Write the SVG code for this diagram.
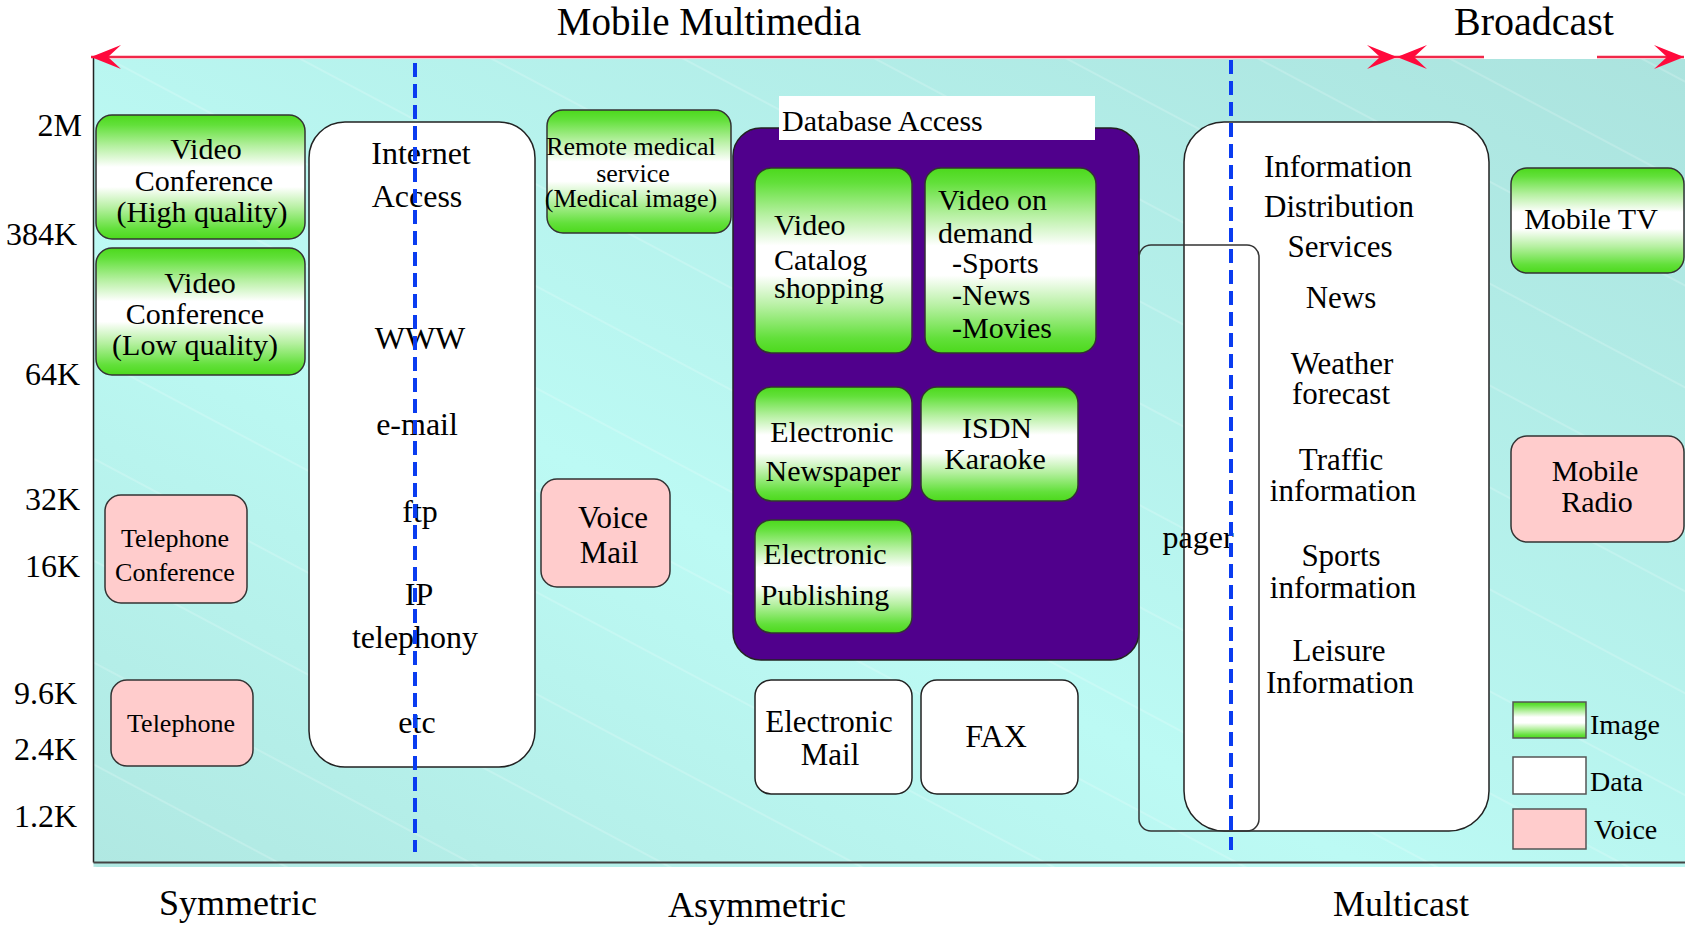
<svg xmlns="http://www.w3.org/2000/svg" width="1685" height="928" viewBox="0 0 1685 928">
<style>
text{font-family:"Liberation Serif","Times New Roman",serif;fill:#000}
.c{text-anchor:middle}
.e{text-anchor:end}
.ax{font-size:32px}
.t30{font-size:30px}
.t31{font-size:31px}
.t32{font-size:32px}
.img{fill:url(#gImg);stroke:#333;stroke-width:1.5}
.voice{fill:#ffcccc;stroke:#333;stroke-width:1.5}
.data{fill:#fff;stroke:#222;stroke-width:1.5}
.dash{stroke:#0a3cf0;stroke-width:4;stroke-dasharray:14 7;fill:none}
.red{stroke:#f0284a;stroke-width:2.5;fill:none}
</style>
<defs>
<linearGradient id="gImg" x1="0" y1="0" x2="0" y2="1">
<stop offset="0" stop-color="#4cd91c"/>
<stop offset="0.08" stop-color="#62e03a"/>
<stop offset="0.25" stop-color="#b5f0a0"/>
<stop offset="0.42" stop-color="#ffffff"/>
<stop offset="0.58" stop-color="#ffffff"/>
<stop offset="0.75" stop-color="#b5f0a0"/>
<stop offset="0.92" stop-color="#62e03a"/>
<stop offset="1" stop-color="#4cd91c"/>
</linearGradient>
<linearGradient id="gBg" x1="0" y1="1" x2="1" y2="0">
<stop offset="0" stop-color="#b0e8e2"/>
<stop offset="0.4" stop-color="#bcfaf4"/>
<stop offset="1" stop-color="#abe3de"/>
</linearGradient>
<pattern id="stripes" width="12" height="90" patternUnits="userSpaceOnUse" patternTransform="rotate(28)">
<line x1="0" y1="1" x2="12" y2="1" stroke="#ffffff" stroke-opacity="0.35" stroke-width="1"/>
</pattern>
<marker id="ah" viewBox="0 0 30 24" refX="30" refY="12" markerWidth="30" markerHeight="24" markerUnits="userSpaceOnUse" orient="auto-start-reverse">
<path d="M0,0 L30,12 L0,24 L13,12 Z" fill="#ff0a3c"/>
</marker>
</defs>

<rect x="0" y="0" width="1685" height="928" fill="#ffffff"/>
<g id="panel">
<rect x="93.5" y="59" width="1592" height="808" fill="url(#gBg)"/>
<rect x="93.5" y="59" width="1592" height="808" fill="url(#stripes)"/>
<line x1="93.5" y1="57" x2="93.5" y2="862.5" stroke="#222" stroke-width="1.5"/>
<line x1="93.5" y1="862.5" x2="1685" y2="862.5" stroke="#444" stroke-width="2"/>
</g>

<g id="labels">
<text class="c" x="709" y="35" style="font-size:39px">Mobile Multimedia</text>
<text class="c" x="1534" y="35" style="font-size:40px">Broadcast</text>
<text class="e ax" x="82" y="136">2M</text>
<text class="e ax" x="77" y="245">384K</text>
<text class="e ax" x="80" y="385">64K</text>
<text class="e ax" x="80" y="510">32K</text>
<text class="e ax" x="80" y="577">16K</text>
<text class="e ax" x="77" y="704">9.6K</text>
<text class="e ax" x="77" y="760">2.4K</text>
<text class="e ax" x="77" y="827">1.2K</text>
<text class="c" x="238" y="915" style="font-size:36px">Symmetric</text>
<text class="c" x="757" y="917" style="font-size:36px">Asymmetric</text>
<text class="c" x="1401" y="916" style="font-size:36px">Multicast</text>
</g>

<g id="vc_high">
<rect class="img" x="96" y="115" width="209" height="124" rx="16"/>
<text class="c t30" x="206" y="159">Video</text>
<text class="c t30" x="204" y="191">Conference</text>
<text class="c t30" x="202" y="222">(High quality)</text>
</g>
<g id="vc_low">
<rect class="img" x="96" y="248" width="209" height="127" rx="16"/>
<text class="c t30" x="200" y="293">Video</text>
<text class="c t30" x="195" y="324">Conference</text>
<text class="c t30" x="195" y="355">(Low quality)</text>
</g>
<g id="tel_conf">
<rect class="voice" x="105" y="495" width="142" height="108" rx="16"/>
<text class="c" x="175" y="547" style="font-size:26px">Telephone</text>
<text class="c" x="175" y="581" style="font-size:26px">Conference</text>
</g>
<g id="telephone">
<rect class="voice" x="111" y="680" width="142" height="86" rx="16"/>
<text class="c" x="181" y="732" style="font-size:26px">Telephone</text>
</g>
<g id="internet">
<rect class="data" x="309" y="122" width="226" height="645" rx="36"/>
<text class="c t32" x="421" y="164">Internet</text>
<text class="c t32" x="417" y="207">Access</text>
<text class="c t32" x="420" y="349">WWW</text>
<text class="c t32" x="417" y="435">e-mail</text>
<text class="c t32" x="420" y="522">ftp</text>
<text class="c t32" x="419" y="605">IP</text>
<text class="c t32" x="415" y="648">telephony</text>
<text class="c t32" x="417" y="733">etc</text>
</g>
<g id="remote_medical">
<rect class="img" x="547" y="110" width="184" height="123" rx="16"/>
<text class="c" x="631" y="155" style="font-size:26px">Remote medical</text>
<text class="c" x="633" y="182" style="font-size:26px">service</text>
<text class="c" x="631" y="207" style="font-size:26px">(Medical image)</text>
</g>
<g id="voice_mail">
<rect class="voice" x="541" y="479" width="129" height="108" rx="16"/>
<text class="c t31" x="613" y="528">Voice</text>
<text class="c t31" x="609" y="563">Mail</text>
</g>
<g id="database_access">
<rect x="733" y="128" width="406" height="532" rx="28" fill="#50008c" stroke="#222" stroke-width="1.5"/>
<rect x="779" y="96" width="316" height="44" fill="#ffffff"/>
<text class="t30" x="782" y="131">Database Access</text>
</g>
<g id="video_catalog">
<rect class="img" x="755" y="168" width="157" height="185" rx="16"/>
<text class="t30" x="774" y="235">Video</text>
<text class="t30" x="774" y="270">Catalog</text>
<text class="t30" x="774" y="298">shopping</text>
</g>
<g id="video_on_demand">
<rect class="img" x="925" y="168" width="171" height="185" rx="16"/>
<text class="t30" x="938" y="210">Video on</text>
<text class="t30" x="938" y="243">demand</text>
<text class="t30" x="952" y="273">-Sports</text>
<text class="t30" x="952" y="305">-News</text>
<text class="t30" x="952" y="338">-Movies</text>
</g>
<g id="electronic_newspaper">
<rect class="img" x="755" y="387" width="157" height="114" rx="16"/>
<text class="c t30" x="832" y="442">Electronic</text>
<text class="c t30" x="833" y="481">Newspaper</text>
</g>
<g id="isdn_karaoke">
<rect class="img" x="921" y="387" width="157" height="114" rx="16"/>
<text class="c t30" x="997" y="438">ISDN</text>
<text class="c t30" x="995" y="469">Karaoke</text>
</g>
<g id="electronic_publishing">
<rect class="img" x="755" y="520" width="157" height="113" rx="16"/>
<text class="c t30" x="825" y="564">Electronic</text>
<text class="c t30" x="825" y="605">Publishing</text>
</g>
<g id="electronic_mail">
<rect class="data" x="755" y="680" width="157" height="114" rx="16"/>
<text class="c t31" x="829" y="732">Electronic</text>
<text class="c t31" x="830" y="765">Mail</text>
</g>
<g id="fax">
<rect class="data" x="921" y="680" width="157" height="114" rx="16"/>
<text class="c t32" x="996" y="747">FAX</text>
</g>
<g id="info_distribution">
<rect class="data" x="1184" y="122" width="305" height="709" rx="40"/>
<text class="c t31" x="1338" y="177">Information</text>
<text class="c t31" x="1339" y="217">Distribution</text>
<text class="c t31" x="1340" y="257">Services</text>
<text class="c t31" x="1341" y="308">News</text>
<text class="c t31" x="1342" y="374">Weather</text>
<text class="c t31" x="1341" y="404">forecast</text>
<text class="c t31" x="1341" y="470">Traffic</text>
<text class="c t31" x="1343" y="501">information</text>
<text class="c t31" x="1341" y="566">Sports</text>
<text class="c t31" x="1343" y="598">information</text>
<text class="c t31" x="1339" y="661">Leisure</text>
<text class="c t31" x="1340" y="693">Information</text>
</g>
<g id="pager">
<rect x="1139" y="245" width="120" height="586" rx="12" fill="none" stroke="#333" stroke-width="1.5"/>
<text class="c t32" x="1198" y="548">pager</text>
</g>
<g id="mobile_tv">
<rect class="img" x="1511" y="168" width="173" height="105" rx="16"/>
<text class="c t30" x="1591" y="229">Mobile TV</text>
</g>
<g id="mobile_radio">
<rect class="voice" x="1511" y="436" width="173" height="106" rx="16"/>
<text class="c t30" x="1595" y="481">Mobile</text>
<text class="c t30" x="1597" y="512">Radio</text>
</g>
<g id="legend">
<rect x="1513" y="702" width="73" height="36" fill="url(#gImg)" stroke="#555" stroke-width="1.5"/>
<text x="1590" y="734" style="font-size:28px">Image</text>
<rect x="1513" y="757" width="73" height="37" fill="#fff" stroke="#555" stroke-width="1.5"/>
<text x="1590" y="791" style="font-size:28px">Data</text>
<rect x="1513" y="809" width="73" height="40" fill="#ffcccc" stroke="#555" stroke-width="1.5"/>
<text x="1594" y="839" style="font-size:28px">Voice</text>
</g>

<g id="connectors">
<line class="red" x1="91" y1="57" x2="1397" y2="57" marker-start="url(#ah)" marker-end="url(#ah)"/>
<line class="red" x1="1397" y1="57" x2="1484" y2="57" marker-start="url(#ah)"/>
<line class="red" x1="1597" y1="57" x2="1684" y2="57" marker-end="url(#ah)"/>
<line class="dash" x1="415" y1="63" x2="415" y2="852"/>
<line class="dash" x1="1231" y1="60" x2="1231" y2="850"/>
</g>
</svg>
